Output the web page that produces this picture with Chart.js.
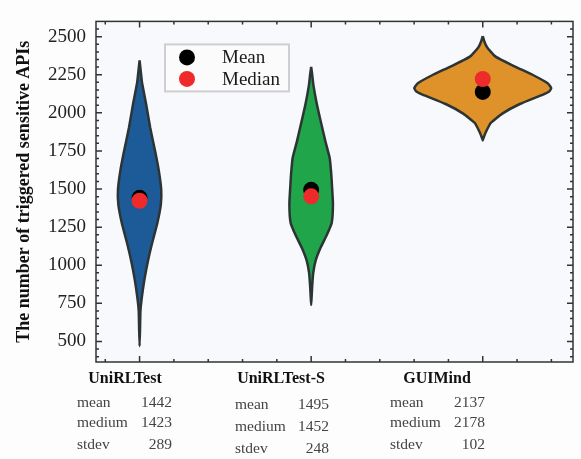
<!DOCTYPE html>
<html>
<head>
<meta charset="utf-8">
<script src="https://cdn.jsdelivr.net/npm/chart.js@4.4.1/dist/chart.umd.min.js"></script>
<style>
  body { margin: 0; background: #fdfdfe; }
  canvas { display: block; }
</style>
</head>
<body>
<canvas id="myChart" width="581" height="459"></canvas>
<script>
// categories and plotted markers
const categories = ['UniRLTest', 'UniRLTest-S', 'GUIMind'];
const meanPlot = [1442, 1495, 2137];
const medianPlot = [1423, 1452, 2222];

// numbers printed under the chart
const statMean = [1442, 1495, 2137];
const statMedium = [1423, 1452, 2178];
const statStdev = [289, 248, 102];

const yTicks = [500, 750, 1000, 1250, 1500, 1750, 2000, 2250, 2500];

// violin outlines: y value and half width (x units)
const uniY = [2344, 2250, 2200, 2058, 1902, 1746, 1621, 1497, 1400, 1279, 1154, 1030, 905, 780, 700, 600, 469];
const uniW = [0, 0.009, 0.014, 0.038, 0.062, 0.091, 0.112, 0.126, 0.124, 0.104, 0.075, 0.049, 0.028, 0.012, 0.005, 0.003, 0];
const uniSY = [2302, 2250, 2182, 2058, 1933, 1808, 1704, 1601, 1528, 1403, 1279, 1198, 1113, 1030, 949, 863, 800, 739];
const uniSW = [0, 0.006, 0.013, 0.033, 0.058, 0.084, 0.108, 0.117, 0.121, 0.127, 0.12, 0.091, 0.054, 0.026, 0.012, 0.006, 0.003, 0];
const guiY = [2504, 2470, 2431, 2369, 2307, 2245, 2193, 2162, 2140, 2120, 2058, 1995, 1933, 1871, 1840, 1819];
const guiW = [0, 0.009, 0.025, 0.075, 0.182, 0.298, 0.38, 0.399, 0.387, 0.351, 0.216, 0.114, 0.046, 0.017, 0.006, 0];

const violinColors = ['#1c5a98', '#20a54a', '#e0922a'];

// construit le contour ferme d'un violon
function violin(center, ys, ws) {
  const pts = [];
  for (let i = 0; i < ys.length; i++) pts.push({ x: center + ws[i], y: ys[i] });
  for (let i = ys.length - 2; i >= 0; i--) pts.push({ x: center - ws[i], y: ys[i] });
  return pts;
}

const shapes = [violin(1, uniY, uniW), violin(2, uniSY, uniSW), violin(3, guiY, guiW)];

const datasets = shapes.map((pts, i) => ({
  label: categories[i],
  data: pts,
  showLine: true,
  fill: 'shape',
  backgroundColor: violinColors[i],
  borderColor: '#2d3434',
  borderWidth: 2.5,
  tension: 0.15,
  pointRadius: 0,
  order: 2,
}));
datasets.push({
  label: 'Mean',
  data: meanPlot.map((v, i) => ({ x: i + 1, y: v })),
  backgroundColor: '#000',
  borderWidth: 0,
  pointRadius: 8,
  order: 1,
});
datasets.push({
  label: 'Median',
  data: medianPlot.map((v, i) => ({ x: i + 1, y: v })),
  backgroundColor: '#ee2a2a',
  borderWidth: 0,
  pointRadius: 8,
  order: 0,
});

const serif = '"Liberation Serif", "DejaVu Serif", serif';

// fond, cadre et graduations vers l'interieur
const framePlugin = {
  id: 'frame',
  beforeDatasetsDraw(chart) {
    const { ctx, chartArea: a } = chart;
    ctx.save();
    ctx.fillStyle = '#f8f9fc';
    ctx.fillRect(a.left, a.top, a.right - a.left, a.bottom - a.top);
    ctx.restore();
  },
  afterDraw(chart) {
    const { ctx, chartArea: a, scales } = chart;
    const x = scales.x, y = scales.y;
    ctx.save();
    ctx.strokeStyle = '#333';
    ctx.lineWidth = 1.5;
    ctx.strokeRect(a.left, a.top, a.right - a.left, a.bottom - a.top);
    ctx.beginPath();
    for (let v = 400; v <= 2600; v += 50) {
      const py = y.getPixelForValue(v);
      if (py < a.top + 1 || py > a.bottom - 1) continue;
      const len = v % 250 === 0 ? 6 : 3;
      ctx.moveTo(a.left, py); ctx.lineTo(a.left + len, py);
      ctx.moveTo(a.right, py); ctx.lineTo(a.right - len, py);
    }
    for (let k = 4; k <= 17; k++) {
      const v = k / 5;
      const px = x.getPixelForValue(v);
      if (px < a.left + 1 || px > a.right - 1) continue;
      const len = k % 5 === 0 ? 6 : 3;
      ctx.moveTo(px, a.top); ctx.lineTo(px, a.top + len);
      ctx.moveTo(px, a.bottom); ctx.lineTo(px, a.bottom - len);
    }
    ctx.stroke();

    // legende
    const lx = a.left + 69, ly = a.top + 23;
    ctx.fillStyle = '#fbfbfc';
    ctx.fillRect(lx, ly, 124, 47);
    ctx.strokeStyle = '#cfcfcf';
    ctx.lineWidth = 2;
    ctx.strokeRect(lx, ly, 124, 47);
    const items = [['Mean', '#000'], ['Median', '#ee2a2a']];
    items.forEach(([t, c], i) => {
      const cy = ly + 13 + i * 21.5;
      ctx.fillStyle = c;
      ctx.beginPath();
      ctx.arc(lx + 22, cy, 8, 0, Math.PI * 2);
      ctx.fill();
      ctx.fillStyle = '#1a1a1a';
      ctx.font = '19px ' + serif;
      ctx.textBaseline = 'middle';
      ctx.textAlign = 'left';
      ctx.fillText(t, lx + 57, cy + 1);
    });

    // noms et statistiques sous le graphique
    const nameX = [125, 281, 437];
    const labX = [77, 235, 390];
    const valX = [172, 329, 485];
    const rowY = [[403, 423, 445], [405, 427, 449], [403, 423, 445]];
    ctx.textBaseline = 'middle';
    categories.forEach((name, i) => {
      ctx.fillStyle = '#111';
      ctx.font = 'bold 16px ' + serif;
      ctx.textAlign = 'center';
      ctx.fillText(name, nameX[i], 379);
      ctx.font = '15.5px ' + serif;
      ctx.fillStyle = '#444';
      const rows = [['mean', statMean[i]], ['medium', statMedium[i]], ['stdev', statStdev[i]]];
      rows.forEach(([lab, val], r) => {
        ctx.textAlign = 'left';
        ctx.fillText(lab, labX[i], rowY[i][r]);
        ctx.textAlign = 'right';
        ctx.fillText(String(val), valX[i], rowY[i][r]);
      });
    });
    ctx.restore();
  }
};

new Chart(document.getElementById('myChart').getContext('2d'), {
  type: 'scatter',
  data: { datasets },
  options: {
    responsive: false,
    animation: false,
    layout: { padding: { top: 3, right: 3, bottom: 97, left: 0 } },
    plugins: { legend: { display: false }, tooltip: { enabled: false } },
    scales: {
      x: {
        type: 'linear',
        min: 0.746,
        max: 3.526,
        grid: { display: false },
        border: { display: false },
        ticks: { display: false },
        afterFit: s => { s.height = 0; },
      },
      y: {
        min: 365,
        max: 2600,
        grid: { display: false, drawTicks: false },
        border: { display: false },
        afterBuildTicks: s => { s.ticks = yTicks.map(v => ({ value: v })); },
        afterFit: s => { s.width = 96; },
        ticks: {
          padding: 10,
          color: '#222',
          font: { family: serif, size: 19 },
          callback: v => String(v),
        },
        title: {
          display: true,
          text: 'The number of triggered sensitive APIs',
          color: '#111',
          font: { family: serif, size: 18, weight: 'bold' },
          padding: { top: 14, bottom: 0 },
        },
      },
    },
  },
  plugins: [framePlugin],
});
</script>
</body>
</html>
